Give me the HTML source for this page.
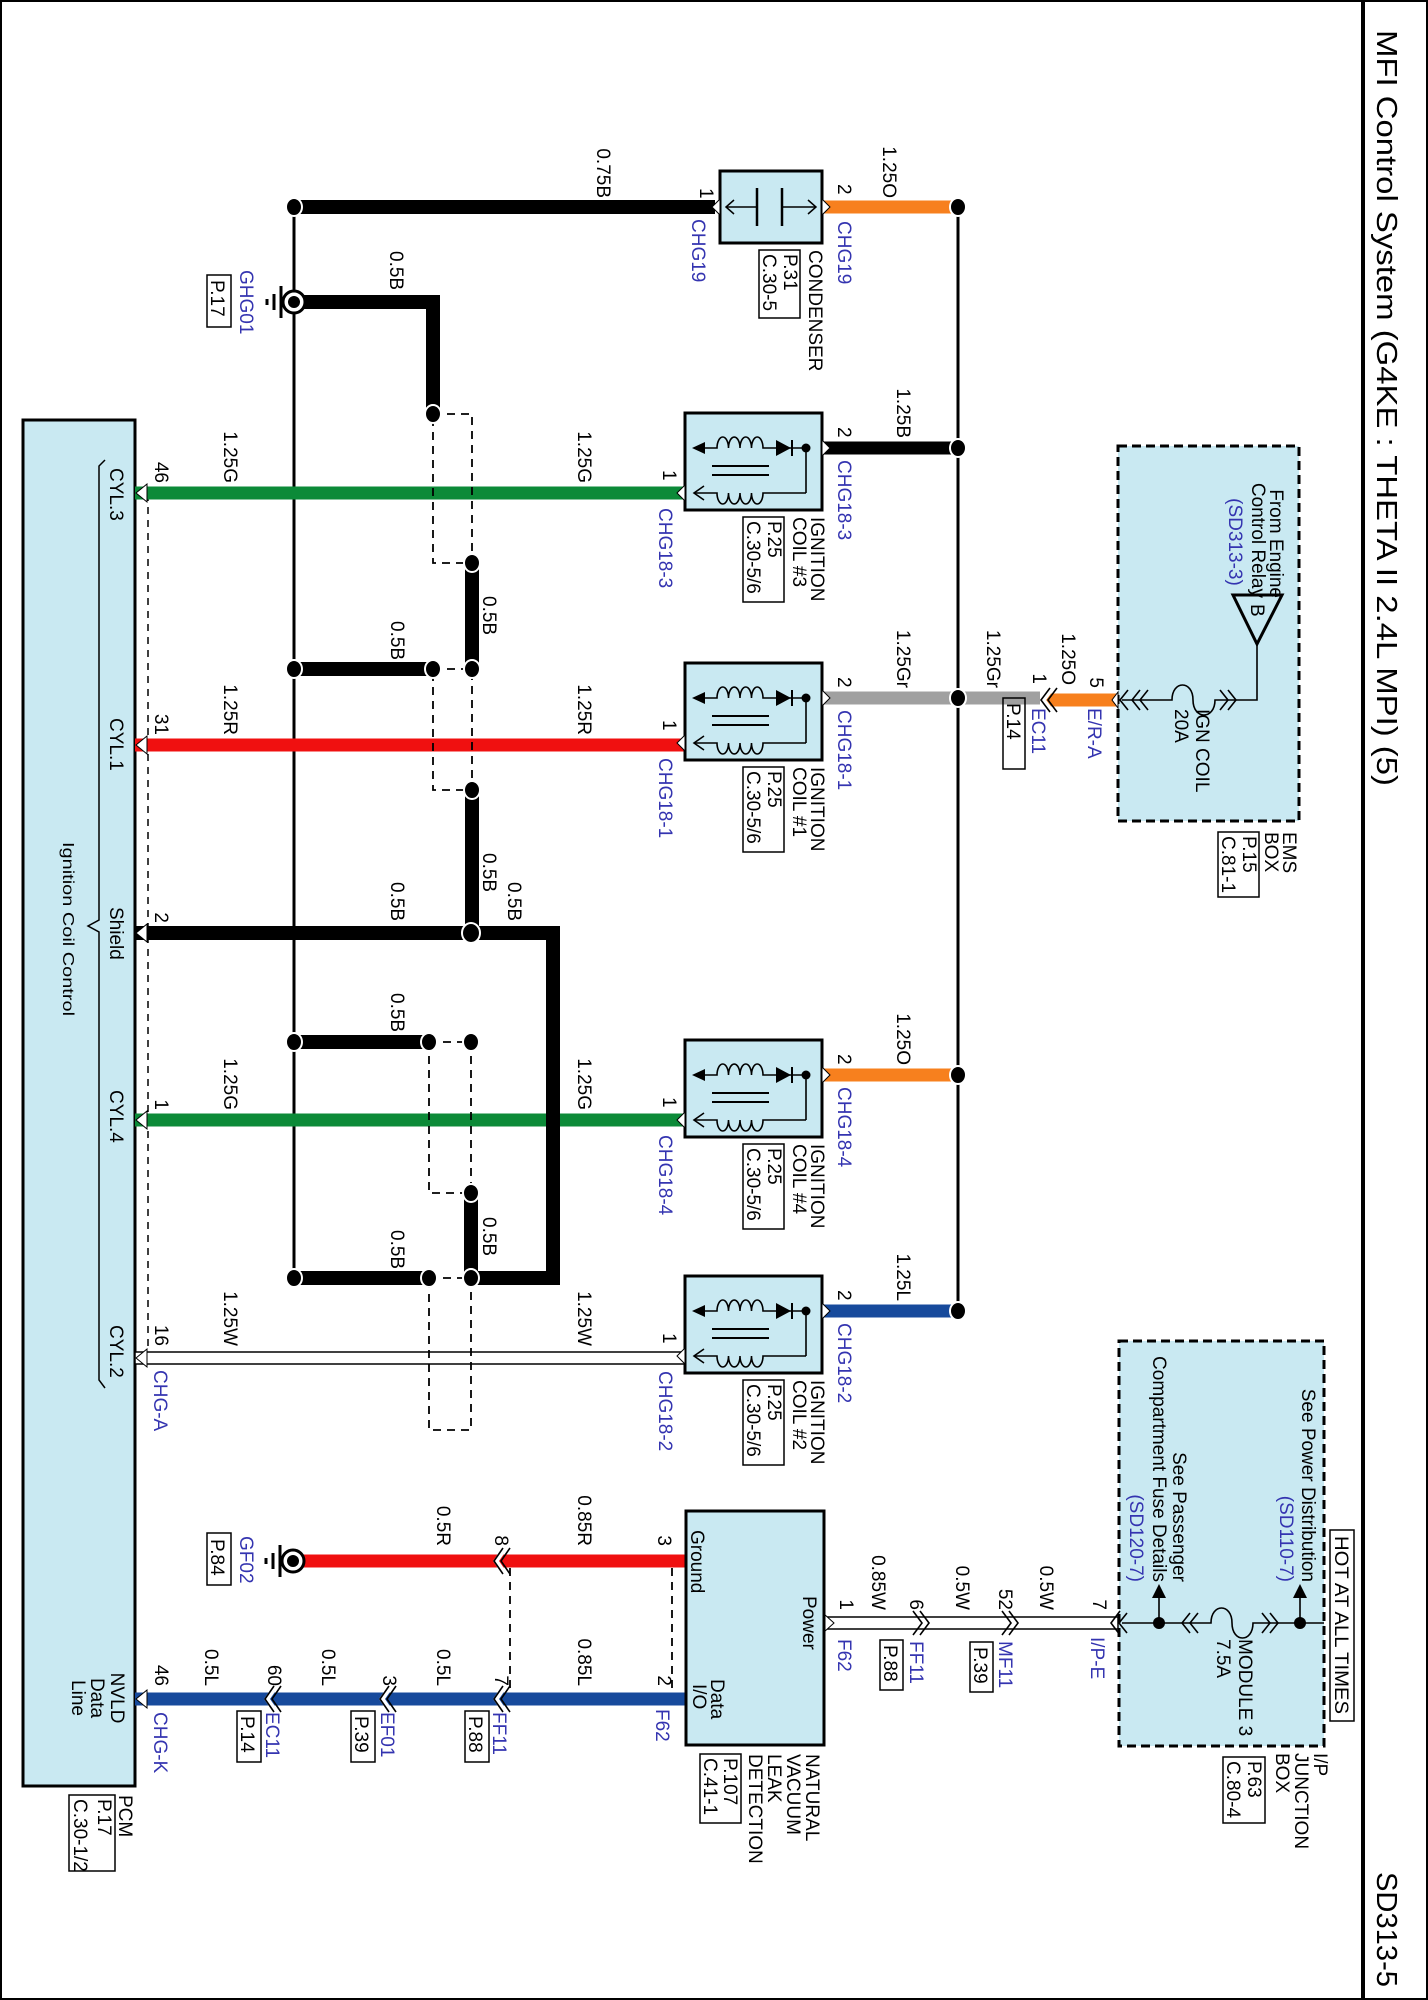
<!DOCTYPE html>
<html><head><meta charset="utf-8"><style>
html,body{margin:0;padding:0;background:#fff;}
svg{display:block;}
text{font-family:"Liberation Sans",Arial,sans-serif;font-size:19px;fill:#000;}
.b{fill:#3434b0;}
.e{text-anchor:end;}
.m{text-anchor:middle;}
.w{stroke-linecap:butt;fill:none;}
</style></head><body>
<svg width="1428" height="2000" viewBox="0 0 1428 2000" xmlns="http://www.w3.org/2000/svg">
<defs>
<g id="coil">
 <rect x="685" y="-35" width="137" height="97" fill="#c9e9f2" stroke="#000" stroke-width="3"/>
 <path d="M704,0 H717 a5.75,11 0 0 1 11.5,0 a5.75,11 0 0 1 11.5,0 a5.75,11 0 0 1 11.5,0 a5.75,11 0 0 1 11.5,0 H806" fill="none" stroke="#000" stroke-width="1.6"/>
 <polygon points="692,0 705,-6 705,6" fill="#000"/>
 <polygon points="776,-8 776,8 791,0" fill="#000"/>
 <line x1="792" y1="-8" x2="792" y2="8" stroke="#000" stroke-width="2"/>
 <circle cx="806" cy="0" r="4.5" fill="#000"/>
 <line x1="806" y1="0" x2="806" y2="45" stroke="#000" stroke-width="1.6"/>
 <path d="M694,45 H717 a5.75,11 0 0 0 11.5,0 a5.75,11 0 0 0 11.5,0 a5.75,11 0 0 0 11.5,0 a5.75,11 0 0 0 11.5,0 H806" fill="none" stroke="#000" stroke-width="1.6"/>
 <polyline points="704,38 694,45 704,52" fill="none" stroke="#000" stroke-width="1.6"/>
 <line x1="712" y1="18" x2="769" y2="18" stroke="#000" stroke-width="2"/>
 <line x1="712" y1="27" x2="769" y2="27" stroke="#000" stroke-width="2"/>
 <polygon points="822,-8 830,0 822,8" fill="#fff" stroke="#000" stroke-width="1"/>
 <polygon points="685,37 677,45 685,53" fill="#fff" stroke="#000" stroke-width="1"/>
</g>
</defs>

<rect x="1" y="1" width="1426" height="1998" fill="none" stroke="#000" stroke-width="2"/>
<line x1="1363" y1="0" x2="1363" y2="2000" stroke="#000" stroke-width="4"/>
<text transform="translate(1377,30) rotate(90)" style="font-size:29px" textLength="756" lengthAdjust="spacingAndGlyphs">MFI Control System (G4KE : THETA II 2.4L MPI) (5)</text>
<text transform="translate(1377,1872) rotate(90)" style="font-size:29px" textLength="115" lengthAdjust="spacingAndGlyphs">SD313-5</text>

<rect x="23" y="420" width="112" height="1366" fill="#c9e9f2" stroke="#000" stroke-width="3"/>
<path d="M105,460 L99,466 V920 L88,926 L99,932 V1380 L105,1388" fill="none" stroke="#000" stroke-width="1.5"/>
<line x1="148" y1="494" x2="148" y2="1356" stroke="#000" stroke-width="1.5" stroke-dasharray="7,6"/>

<line x1="294" y1="207" x2="294" y2="1278" stroke="#000" stroke-width="3"/>
<line x1="958" y1="207" x2="958" y2="1311" stroke="#000" stroke-width="3"/>

<g class="w" stroke-width="13">
 <line x1="822" y1="207" x2="958" y2="207" stroke="#f7801e"/>
 <line x1="822" y1="448" x2="958" y2="448" stroke="#000"/>
 <line x1="822" y1="698" x2="1040" y2="698" stroke="#a0a0a0"/>
 <line x1="1046" y1="700" x2="1116" y2="700" stroke="#f7801e"/>
 <line x1="822" y1="1075" x2="958" y2="1075" stroke="#f7801e"/>
 <line x1="822" y1="1311" x2="958" y2="1311" stroke="#174a9c"/>
 <line x1="135" y1="493" x2="685" y2="493" stroke="#0c8a38"/>
 <line x1="135" y1="745" x2="685" y2="745" stroke="#f01010"/>
 <line x1="135" y1="1120" x2="685" y2="1120" stroke="#0c8a38"/>
 <line x1="293" y1="1561" x2="686" y2="1561" stroke="#f01010"/>
 <line x1="135" y1="1699" x2="686" y2="1699" stroke="#174a9c"/>
</g>
<rect x="135" y="1352" width="550" height="12" fill="#fff" stroke="#000" stroke-width="1.5"/>
<rect x="824" y="1617" width="294" height="12" fill="#fff" stroke="#000" stroke-width="1.5"/>

<g class="w" stroke="#000" stroke-width="14">
 <line x1="294" y1="207" x2="715" y2="207"/>
 <path d="M294,302 H433 V414"/>
 <path d="M472,563 V669"/>
 <path d="M294,669 H433"/>
 <path d="M472,790 V933"/>
 <path d="M135,933 H553 V1278 H471"/>
 <path d="M294,1042 H429"/>
 <path d="M471,1193 V1278"/>
 <path d="M294,1278 H429"/>
</g>

<g fill="none" stroke="#000" stroke-width="1.8" stroke-dasharray="8,6">
 <rect x="433" y="414" width="39" height="149"/>
 <rect x="433" y="669" width="39" height="121"/>
 <rect x="429" y="1042" width="42" height="151"/>
 <rect x="429" y="1278" width="42" height="152"/>
 <line x1="510" y1="1568" x2="510" y2="1692"/>
 <line x1="672" y1="1568" x2="672" y2="1692"/>
</g>

<g fill="#000" stroke="#fff" stroke-width="2">
 <ellipse cx="294" cy="207" rx="8" ry="9"/>
 <ellipse cx="958" cy="207" rx="8" ry="9"/>
 <ellipse cx="958" cy="448" rx="8" ry="9"/>
 <ellipse cx="958" cy="698" rx="8" ry="9"/>
 <ellipse cx="958" cy="1075" rx="8" ry="9"/>
 <ellipse cx="958" cy="1311" rx="8" ry="9"/>
 <ellipse cx="294" cy="669" rx="8" ry="9"/>
 <ellipse cx="433" cy="414" rx="8" ry="9"/>
 <ellipse cx="472" cy="563" rx="8" ry="9"/>
 <ellipse cx="433" cy="669" rx="8" ry="9"/>
 <ellipse cx="472" cy="669" rx="8" ry="9"/>
 <ellipse cx="472" cy="790" rx="8" ry="9"/>
 <ellipse cx="471" cy="933" rx="9" ry="10"/>
 <ellipse cx="294" cy="1042" rx="8" ry="9"/>
 <ellipse cx="429" cy="1042" rx="8" ry="9"/>
 <ellipse cx="471" cy="1042" rx="8" ry="9"/>
 <ellipse cx="471" cy="1193" rx="8" ry="9"/>
 <ellipse cx="294" cy="1278" rx="8" ry="9"/>
 <ellipse cx="429" cy="1278" rx="8" ry="9"/>
 <ellipse cx="471" cy="1278" rx="8" ry="9"/>
</g>

<g fill="#fff" stroke="#000" stroke-width="1">
 <polygon points="147,484 136,493 147,502"/>
 <polygon points="147,736 136,745 147,754"/>
 <polygon points="147,924 136,933 147,942"/>
 <polygon points="147,1111 136,1120 147,1129"/>
 <polygon points="147,1349 136,1358 147,1367"/>
 <polygon points="147,1690 136,1699 147,1708"/>
 <polygon points="698,1552 687,1561 698,1570"/>
 <polygon points="698,1690 687,1699 698,1708"/>
 <polygon points="824,1614 834,1623 824,1632"/>
</g>

<g>
 <circle cx="294" cy="302" r="11" fill="#fff" stroke="#000" stroke-width="3"/>
 <circle cx="294" cy="302" r="6" fill="#000"/>
 <line x1="281" y1="286" x2="281" y2="318" stroke="#000" stroke-width="3"/>
 <line x1="274" y1="294" x2="274" y2="310" stroke="#000" stroke-width="3"/>
 <line x1="267" y1="299" x2="267" y2="305" stroke="#000" stroke-width="3"/>
</g>
<g transform="translate(-1,1259)">
 <circle cx="294" cy="302" r="11" fill="#fff" stroke="#000" stroke-width="3"/>
 <circle cx="294" cy="302" r="6" fill="#000"/>
 <line x1="281" y1="286" x2="281" y2="318" stroke="#000" stroke-width="3"/>
 <line x1="274" y1="294" x2="274" y2="310" stroke="#000" stroke-width="3"/>
 <line x1="267" y1="299" x2="267" y2="305" stroke="#000" stroke-width="3"/>
</g>

<rect x="720" y="171" width="102" height="72" fill="#c9e9f2" stroke="#000" stroke-width="3"/>
<line x1="726" y1="207" x2="757" y2="207" stroke="#000" stroke-width="1.5"/>
<line x1="782" y1="207" x2="816" y2="207" stroke="#000" stroke-width="1.5"/>
<line x1="757" y1="188" x2="757" y2="226" stroke="#000" stroke-width="2.5"/>
<line x1="782" y1="188" x2="782" y2="226" stroke="#000" stroke-width="2.5"/>
<polyline points="734,200 726,207 734,214" fill="none" stroke="#000" stroke-width="1.5"/>
<polyline points="808,200 816,207 808,214" fill="none" stroke="#000" stroke-width="1.5"/>
<polygon points="822,199 830,207 822,215" fill="#fff" stroke="#000" stroke-width="1"/>
<polygon points="720,199 712,207 720,215" fill="#fff" stroke="#000" stroke-width="1"/>

<use href="#coil" transform="translate(0,448)"/>
<use href="#coil" transform="translate(0,698)"/>
<use href="#coil" transform="translate(0,1075)"/>
<use href="#coil" transform="translate(0,1311)"/>

<rect x="686" y="1511" width="138" height="234" fill="#c9e9f2" stroke="#000" stroke-width="3"/>

<rect x="1118" y="446" width="181" height="375" fill="#c9e9f2" stroke="#000" stroke-width="3" stroke-dasharray="9,5"/>
<polygon points="1233,595 1282,595 1257,644" fill="#c9e9f2" stroke="#000" stroke-width="3"/>
<path d="M1257,644 V700 H1236" fill="none" stroke="#000" stroke-width="1.6"/>
<path d="M1122,700 H1172 C1172,680 1193,680 1193,700 C1193,720 1215,720 1215,700 H1236" fill="none" stroke="#000" stroke-width="1.6"/>
<g fill="none" stroke="#000" stroke-width="1.6">
 <polyline points="1128,690 1120,700 1128,710"/>
 <polyline points="1140,690 1132,700 1140,710"/><polyline points="1148,690 1140,700 1148,710"/>
 <polyline points="1220,690 1228,700 1220,710"/><polyline points="1228,690 1236,700 1228,710"/>
</g>
<polyline points="1052,688 1043,700 1052,712" fill="none" stroke="#fff" stroke-width="5"/>
<polyline points="1050,688 1041,700 1050,712" fill="none" stroke="#000" stroke-width="1.6"/>
<polyline points="1057,688 1048,700 1057,712" fill="none" stroke="#000" stroke-width="1.6"/>
<polygon points="1118,692 1112,700 1118,708" fill="#fff" stroke="#000" stroke-width="1"/>

<rect x="1119" y="1341" width="205" height="405" fill="#c9e9f2" stroke="#000" stroke-width="3" stroke-dasharray="9,5"/>
<path d="M1122,1623 H1211 C1211,1603 1232,1603 1232,1623 C1232,1643 1253,1643 1253,1623 H1324" fill="none" stroke="#000" stroke-width="1.6"/>
<g fill="none" stroke="#000" stroke-width="1.6">
 <polyline points="1127,1613 1119,1623 1127,1633"/>
 <polyline points="1190,1613 1182,1623 1190,1633"/><polyline points="1198,1613 1190,1623 1198,1633"/>
 <polyline points="1262,1613 1270,1623 1262,1633"/><polyline points="1270,1613 1278,1623 1270,1633"/>
 <line x1="1300" y1="1623" x2="1300" y2="1596"/>
 <line x1="1159" y1="1623" x2="1159" y2="1596"/>
</g>
<circle cx="1300" cy="1623" r="6" fill="#000"/>
<circle cx="1159" cy="1623" r="6" fill="#000"/>
<polygon points="1300,1584 1293,1598 1307,1598" fill="#000"/>
<polygon points="1159,1584 1152,1598 1166,1598" fill="#000"/>
<rect x="1330" y="1530" width="24" height="191" fill="#fff" stroke="#000" stroke-width="1.5"/>

<g fill="none" stroke="#000" stroke-width="1.6">
 <polyline points="913,1611 922,1623 913,1635"/><polyline points="920,1611 929,1623 920,1635"/>
 <polyline points="1002,1611 1011,1623 1002,1635"/><polyline points="1009,1611 1018,1623 1009,1635"/>
 <polyline points="1120,1611 1111,1623 1120,1635"/>
</g>
<g>
 <polyline points="505,1548 496,1561 505,1574" fill="none" stroke="#fff" stroke-width="5"/>
 <polyline points="503,1548 494,1561 503,1574" fill="none" stroke="#000" stroke-width="1.6"/>
 <polyline points="510,1548 501,1561 510,1574" fill="none" stroke="#000" stroke-width="1.6"/>
 <polyline points="505,1686 496,1699 505,1712" fill="none" stroke="#fff" stroke-width="5"/>
 <polyline points="503,1686 494,1699 503,1712" fill="none" stroke="#000" stroke-width="1.6"/>
 <polyline points="510,1686 501,1699 510,1712" fill="none" stroke="#000" stroke-width="1.6"/>
 <polyline points="391,1686 382,1699 391,1712" fill="none" stroke="#fff" stroke-width="5"/>
 <polyline points="389,1686 380,1699 389,1712" fill="none" stroke="#000" stroke-width="1.6"/>
 <polyline points="396,1686 387,1699 396,1712" fill="none" stroke="#000" stroke-width="1.6"/>
 <polyline points="276,1686 267,1699 276,1712" fill="none" stroke="#fff" stroke-width="5"/>
 <polyline points="274,1686 265,1699 274,1712" fill="none" stroke="#000" stroke-width="1.6"/>
 <polyline points="281,1686 272,1699 281,1712" fill="none" stroke="#000" stroke-width="1.6"/>
</g>

<g fill="none" stroke="#000" stroke-width="1.5">
 <rect x="759" y="250" width="41" height="68"/>
 <rect x="207" y="275" width="24" height="52"/>
 <rect x="743" y="517" width="41" height="85"/>
 <rect x="743" y="767" width="41" height="85"/>
 <rect x="743" y="1144" width="41" height="85"/>
 <rect x="743" y="1380" width="41" height="85"/>
 <rect x="1003" y="698" width="22" height="71"/>
 <rect x="1218" y="832" width="41" height="65"/>
 <rect x="207" y="1533" width="24" height="52"/>
 <rect x="465" y="1711" width="24" height="51"/>
 <rect x="351" y="1711" width="24" height="51"/>
 <rect x="237" y="1711" width="24" height="51"/>
 <rect x="880" y="1640" width="23" height="50"/>
 <rect x="970" y="1642" width="23" height="50"/>
 <rect x="700" y="1754" width="41" height="69"/>
 <rect x="69" y="1795" width="46" height="76"/>
 <rect x="1223" y="1757" width="42" height="66"/>
</g>

<text class="e" transform="translate(597,198) rotate(90)">0.75B</text>
<text transform="translate(700,188) rotate(90)">1</text>
<text class="b" transform="translate(692,219) rotate(90)">CHG19</text>
<text transform="translate(838,184) rotate(90)">2</text>
<text class="b" transform="translate(838,221) rotate(90)">CHG19</text>
<text class="e" transform="translate(883,198) rotate(90)">1.25O</text>
<text transform="translate(809,250) rotate(90)">CONDENSER</text>
<text transform="translate(784,254) rotate(90)">P.31</text>
<text transform="translate(763,254) rotate(90)">C.30-5</text>
<text class="b" transform="translate(240,270) rotate(90)">GHG01</text>
<text transform="translate(211,280) rotate(90)">P.17</text>
<text transform="translate(390,251) rotate(90)">0.5B</text>
<text transform="translate(483,596) rotate(90)">0.5B</text>
<text transform="translate(391,621) rotate(90)">0.5B</text>
<text transform="translate(483,853) rotate(90)">0.5B</text>
<text transform="translate(391,882) rotate(90)">0.5B</text>
<text transform="translate(508,882) rotate(90)">0.5B</text>
<text transform="translate(391,993) rotate(90)">0.5B</text>
<text transform="translate(483,1217) rotate(90)">0.5B</text>
<text transform="translate(391,1230) rotate(90)">0.5B</text>

<text transform="translate(838,427) rotate(90)">2</text>
<text class="b" transform="translate(838,460) rotate(90)">CHG18-3</text>
<text transform="translate(663,470) rotate(90)">1</text>
<text class="b" transform="translate(659,508) rotate(90)">CHG18-3</text>
<text transform="translate(811,517) rotate(90)">IGNITION</text>
<text transform="translate(793,517) rotate(90)">COIL #3</text>
<text transform="translate(768,521) rotate(90)">P.25</text>
<text transform="translate(747,521) rotate(90)">C.30-5/6</text>
<text class="e" transform="translate(897,438) rotate(90)">1.25B</text>
<text class="e" transform="translate(224,483) rotate(90)">1.25G</text>
<text class="e" transform="translate(578,483) rotate(90)">1.25G</text>
<text class="e" transform="translate(155,483) rotate(90)">46</text>
<text transform="translate(110,468) rotate(90)">CYL.3</text>

<text transform="translate(838,677) rotate(90)">2</text>
<text class="b" transform="translate(838,710) rotate(90)">CHG18-1</text>
<text transform="translate(663,720) rotate(90)">1</text>
<text class="b" transform="translate(659,758) rotate(90)">CHG18-1</text>
<text transform="translate(811,767) rotate(90)">IGNITION</text>
<text transform="translate(793,767) rotate(90)">COIL #1</text>
<text transform="translate(768,771) rotate(90)">P.25</text>
<text transform="translate(747,771) rotate(90)">C.30-5/6</text>
<text class="e" transform="translate(897,688) rotate(90)">1.25Gr</text>
<text class="e" transform="translate(987,688) rotate(90)">1.25Gr</text>
<text class="e" transform="translate(224,735) rotate(90)">1.25R</text>
<text class="e" transform="translate(578,735) rotate(90)">1.25R</text>
<text class="e" transform="translate(155,735) rotate(90)">31</text>
<text transform="translate(110,718) rotate(90)">CYL.1</text>

<text class="e" transform="translate(155,923) rotate(90)">2</text>
<text transform="translate(110,907) rotate(90)">Shield</text>

<text transform="translate(838,1054) rotate(90)">2</text>
<text class="b" transform="translate(838,1087) rotate(90)">CHG18-4</text>
<text transform="translate(663,1097) rotate(90)">1</text>
<text class="b" transform="translate(659,1135) rotate(90)">CHG18-4</text>
<text transform="translate(811,1144) rotate(90)">IGNITION</text>
<text transform="translate(793,1144) rotate(90)">COIL #4</text>
<text transform="translate(768,1148) rotate(90)">P.25</text>
<text transform="translate(747,1148) rotate(90)">C.30-5/6</text>
<text class="e" transform="translate(897,1065) rotate(90)">1.25O</text>
<text class="e" transform="translate(224,1110) rotate(90)">1.25G</text>
<text class="e" transform="translate(578,1110) rotate(90)">1.25G</text>
<text class="e" transform="translate(155,1110) rotate(90)">1</text>
<text transform="translate(110,1090) rotate(90)">CYL.4</text>

<text transform="translate(838,1290) rotate(90)">2</text>
<text class="b" transform="translate(838,1323) rotate(90)">CHG18-2</text>
<text transform="translate(663,1333) rotate(90)">1</text>
<text class="b" transform="translate(659,1371) rotate(90)">CHG18-2</text>
<text transform="translate(811,1380) rotate(90)">IGNITION</text>
<text transform="translate(793,1380) rotate(90)">COIL #2</text>
<text transform="translate(768,1384) rotate(90)">P.25</text>
<text transform="translate(747,1384) rotate(90)">C.30-5/6</text>
<text class="e" transform="translate(897,1301) rotate(90)">1.25L</text>
<text class="e" transform="translate(224,1346) rotate(90)">1.25W</text>
<text class="e" transform="translate(578,1346) rotate(90)">1.25W</text>
<text class="e" transform="translate(155,1346) rotate(90)">16</text>
<text transform="translate(110,1325) rotate(90)">CYL.2</text>
<text class="b" transform="translate(154,1370) rotate(90)">CHG-A</text>

<text transform="translate(63,842) rotate(90)" style="font-size:16px" textLength="174" lengthAdjust="spacingAndGlyphs">Ignition Coil Control</text>

<text class="e" transform="translate(1270,598) rotate(90)">From Engine</text>
<text class="e" transform="translate(1252,598) rotate(90)">Control Relay</text>
<text class="b m" transform="translate(1229,542) rotate(90)">(SD313-3)</text>
<text transform="translate(1251,604) rotate(90)">B</text>
<text transform="translate(1196,709) rotate(90)">IGN COIL</text>
<text transform="translate(1175,709) rotate(90)">20A</text>
<text class="e" transform="translate(1090,688) rotate(90)">5</text>
<text class="e" transform="translate(1062,685) rotate(90)">1.25O</text>
<text class="e" transform="translate(1033,684) rotate(90)">1</text>
<text class="b" transform="translate(1088,708) rotate(90)">E/R-A</text>
<text class="b" transform="translate(1032,708) rotate(90)">EC11</text>
<text transform="translate(1007,703) rotate(90)">P.14</text>
<text transform="translate(1283,832) rotate(90)">EMS</text>
<text transform="translate(1265,832) rotate(90)">BOX</text>
<text transform="translate(1243,836) rotate(90)">P.15</text>
<text transform="translate(1222,836) rotate(90)">C.81-1</text>

<text transform="translate(1335,1536) rotate(90)" textLength="178" lengthAdjust="spacingAndGlyphs">HOT AT ALL TIMES</text>
<text class="e" transform="translate(1302,1582) rotate(90)">See Power Distribution</text>
<text class="b e" transform="translate(1280,1582) rotate(90)">(SD110-7)</text>
<text class="e" transform="translate(1173,1582) rotate(90)">See Passenger</text>
<text class="e" transform="translate(1153,1582) rotate(90)">Compartment Fuse Details</text>
<text class="b e" transform="translate(1130,1582) rotate(90)">(SD120-7)</text>
<text transform="translate(1239,1639) rotate(90)">MODULE 3</text>
<text transform="translate(1217,1639) rotate(90)">7.5A</text>
<text transform="translate(1314,1753) rotate(90)">I/P</text>
<text transform="translate(1295,1753) rotate(90)">JUNCTION</text>
<text transform="translate(1276,1753) rotate(90)">BOX</text>
<text transform="translate(1248,1761) rotate(90)">P.63</text>
<text transform="translate(1227,1761) rotate(90)">C.80-4</text>

<text class="e" transform="translate(840,1610) rotate(90)">1</text>
<text class="e" transform="translate(872,1610) rotate(90)">0.85W</text>
<text class="e" transform="translate(910,1610) rotate(90)">6</text>
<text class="e" transform="translate(956,1610) rotate(90)">0.5W</text>
<text class="e" transform="translate(999,1610) rotate(90)">52</text>
<text class="e" transform="translate(1040,1610) rotate(90)">0.5W</text>
<text class="e" transform="translate(1093,1610) rotate(90)">7</text>
<text class="b" transform="translate(838,1639) rotate(90)">F62</text>
<text class="b" transform="translate(910,1641) rotate(90)">FF11</text>
<text transform="translate(884,1645) rotate(90)">P.88</text>
<text class="b" transform="translate(999,1641) rotate(90)">MF11</text>
<text transform="translate(974,1647) rotate(90)">P.39</text>
<text class="b" transform="translate(1091,1637) rotate(90)">I/P-E</text>

<text transform="translate(691,1530) rotate(90)">Ground</text>
<text transform="translate(803,1596) rotate(90)">Power</text>
<text transform="translate(711,1679) rotate(90)">Data</text>
<text transform="translate(693,1684) rotate(90)">I/O</text>
<text transform="translate(806,1754) rotate(90)">NATURAL</text>
<text transform="translate(787,1754) rotate(90)">VACUUM</text>
<text transform="translate(768,1754) rotate(90)">LEAK</text>
<text transform="translate(749,1754) rotate(90)">DETECTION</text>
<text transform="translate(724,1758) rotate(90)">P.107</text>
<text transform="translate(704,1758) rotate(90)">C.41-1</text>

<text class="e" transform="translate(437,1546) rotate(90)">0.5R</text>
<text class="e" transform="translate(578,1546) rotate(90)">0.85R</text>
<text class="e" transform="translate(495,1546) rotate(90)">8</text>
<text class="e" transform="translate(658,1546) rotate(90)">3</text>
<text class="b" transform="translate(240,1536) rotate(90)">GF02</text>
<text transform="translate(211,1539) rotate(90)">P.84</text>

<text class="e" transform="translate(578,1686) rotate(90)">0.85L</text>
<text class="e" transform="translate(437,1686) rotate(90)">0.5L</text>
<text class="e" transform="translate(322,1686) rotate(90)">0.5L</text>
<text class="e" transform="translate(205,1686) rotate(90)">0.5L</text>
<text class="e" transform="translate(658,1686) rotate(90)">2</text>
<text class="e" transform="translate(495,1686) rotate(90)">7</text>
<text class="e" transform="translate(383,1686) rotate(90)">3</text>
<text class="e" transform="translate(268,1686) rotate(90)">60</text>
<text class="e" transform="translate(155,1686) rotate(90)">46</text>
<text class="b" transform="translate(656,1709) rotate(90)">F62</text>
<text class="b" transform="translate(493,1712) rotate(90)">FF11</text>
<text transform="translate(469,1716) rotate(90)">P.88</text>
<text class="b" transform="translate(381,1712) rotate(90)">EF01</text>
<text transform="translate(355,1716) rotate(90)">P.39</text>
<text class="b" transform="translate(266,1712) rotate(90)">EC11</text>
<text transform="translate(241,1716) rotate(90)">P.14</text>
<text class="b" transform="translate(154,1712) rotate(90)">CHG-K</text>

<text class="m" transform="translate(111,1698) rotate(90)">NVLD</text>
<text class="m" transform="translate(91,1698) rotate(90)">Data</text>
<text class="m" transform="translate(72,1698) rotate(90)">Line</text>
<text transform="translate(119,1795) rotate(90)">PCM</text>
<text transform="translate(98,1799) rotate(90)">P.17</text>
<text transform="translate(74,1799) rotate(90)">C.30-1/2</text>
</svg>
</body></html>
